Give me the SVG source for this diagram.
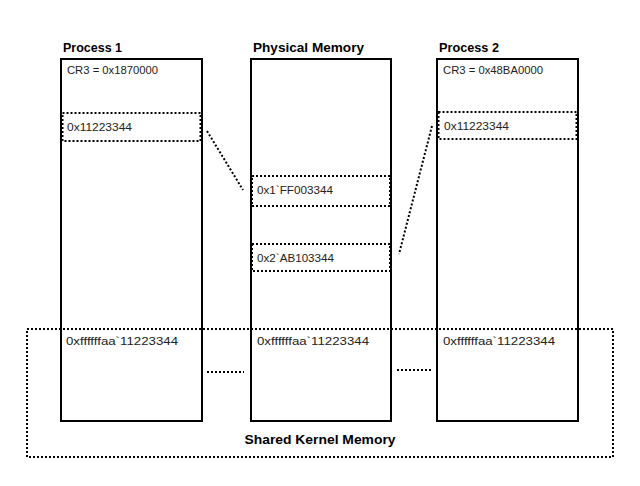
<svg xmlns="http://www.w3.org/2000/svg" width="640" height="486" viewBox="0 0 640 486">
<style>
.box{fill:#fff;stroke:#000;stroke-width:2}
.dot{fill:none;stroke:#000;stroke-width:2;stroke-dasharray:2 2}
.title{font-family:"Liberation Sans",Arial,sans-serif;font-weight:bold;font-size:13px;fill:#000}
.lbl{font-family:"Liberation Sans",Arial,sans-serif;font-size:11px;fill:#222}
</style>
<rect width="640" height="486" fill="#fff"/>
<g id="process1">
<text class="title" x="63" y="52" textLength="59" lengthAdjust="spacingAndGlyphs">Process 1</text>
<rect class="box" x="61" y="59" width="141" height="362"/>
<text class="lbl" x="67" y="74" textLength="91" lengthAdjust="spacingAndGlyphs">CR3 = 0x1870000</text>
<rect class="dot" x="62.5" y="113" width="138" height="28"/>
<text class="lbl" x="67" y="131" textLength="65" lengthAdjust="spacingAndGlyphs">0x11223344</text>
<text class="lbl" x="66" y="345" textLength="112" lengthAdjust="spacingAndGlyphs">0xffffffaa`11223344</text>
</g>
<g id="physical-memory">
<text class="title" x="253" y="52" textLength="111" lengthAdjust="spacingAndGlyphs">Physical Memory</text>
<rect class="box" x="251" y="59" width="140" height="362"/>
<rect class="dot" x="252" y="176" width="138" height="30"/>
<text class="lbl" x="257" y="194" textLength="76" lengthAdjust="spacingAndGlyphs">0x1`FF003344</text>
<rect class="dot" x="252" y="244" width="138" height="27"/>
<text class="lbl" x="257" y="262" textLength="77" lengthAdjust="spacingAndGlyphs">0x2`AB103344</text>
<text class="lbl" x="257" y="345" textLength="112" lengthAdjust="spacingAndGlyphs">0xffffffaa`11223344</text>
</g>
<g id="process2">
<text class="title" x="439" y="52" textLength="60" lengthAdjust="spacingAndGlyphs">Process 2</text>
<rect class="box" x="437" y="59" width="141" height="362"/>
<text class="lbl" x="443" y="74" textLength="100" lengthAdjust="spacingAndGlyphs">CR3 = 0x48BA0000</text>
<rect class="dot" x="438.5" y="112" width="138" height="27"/>
<text class="lbl" x="444" y="130" textLength="65" lengthAdjust="spacingAndGlyphs">0x11223344</text>
<text class="lbl" x="443" y="345" textLength="112" lengthAdjust="spacingAndGlyphs">0xffffffaa`11223344</text>
</g>
<g id="shared-kernel">
<rect class="dot" x="27" y="329" width="586" height="128"/>
<text class="title" x="320" y="444" text-anchor="middle" textLength="151" lengthAdjust="spacingAndGlyphs">Shared Kernel Memory</text>
</g>
<g id="connectors">
<line class="dot" x1="207" y1="131" x2="243" y2="190"/>
<line class="dot" x1="432" y1="126" x2="399" y2="254"/>
<line class="dot" x1="207" y1="372" x2="244" y2="372"/>
<line class="dot" x1="397" y1="370" x2="433" y2="370"/>
</g>
</svg>
